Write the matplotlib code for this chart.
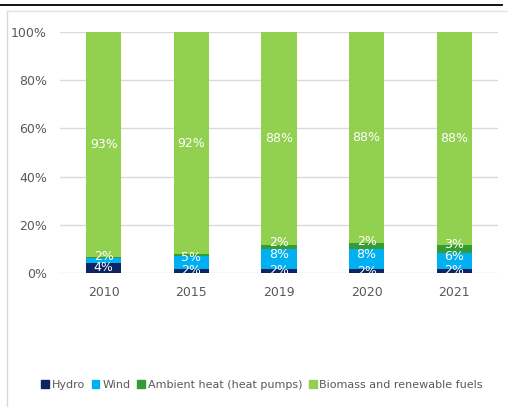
import matplotlib.pyplot as plt
from matplotlib.lines import Line2D
from matplotlib.patches import Rectangle
import numpy as np

years = ['2010', '2015', '2019', '2020', '2021']
hydro = [4.2, 1.8, 1.7, 1.6, 1.8]
wind = [2.2, 5.4, 8.3, 8.4, 6.4]
ambient = [0.3, 0.6, 1.8, 2.4, 3.4]
biomass = [93.3, 92.2, 88.2, 87.6, 88.4]

series = [
    ('Hydro', hydro, '#0c2461'),
    ('Wind', wind, '#00b0f0'),
    ('Ambient heat (heat pumps)', ambient, '#359b35'),
    ('Biomass and renewable fuels', biomass, '#92d050'),
]
min_label = 1.0
text_gray = '#595959'

W, H = 508, 407
fig = plt.figure(figsize=(W / 100, H / 100), dpi=100)

# outer decorations: dark rule on top, light frame around the chart area
fig.add_artist(Line2D([0, 502 / W], [1 - 5 / H, 1 - 5 / H], color='black', lw=1.3))
fig.add_artist(Line2D([7 / W, 1], [1 - 11 / H, 1 - 11 / H], color='#e3e3e3', lw=1.0))
fig.add_artist(Line2D([7 / W, 7 / W], [0, 1 - 11 / H], color='#d9d9d9', lw=1.0))

ax = fig.add_axes([60 / W, 1 - 273 / H, (498 - 60) / W, (273 - 32) / H])
x = np.arange(len(years))
bottom = np.zeros(len(years))
handles = []
for k, (name, vals, color) in enumerate(series):
    vals = np.array(vals)
    ax.bar(x, vals, 0.4, bottom=bottom, color=color, zorder=3)
    for xi, b, v in zip(x, bottom, vals):
        if v < min_label:
            continue
        # small stacked segments: nudge the label up so it clears the one below
        dy = 3 if (k > 0 and v < 10) else 0
        ax.annotate('%.0f%%' % v, (xi, b + v / 2), xytext=(0, dy),
                    textcoords='offset points', ha='center', va='center',
                    color='white', fontsize=9, zorder=4)
    bottom += vals
    handles.append(Rectangle((0, 0), 1, 1, color=color, label=name))

ax.set_xlim(-0.5, len(years) - 0.5)
ax.set_ylim(0, 100)
ax.set_yticks(np.arange(0, 101, 20))
ax.set_yticklabels(['%d%%' % v for v in range(0, 101, 20)])
ax.set_xticks(x)
ax.set_xticklabels(years)
ax.yaxis.grid(True, color='#d9d9d9', lw=1.0, zorder=0)
for s in ax.spines.values():
    s.set_visible(False)
ax.tick_params(length=0, labelsize=9, colors=text_gray)
ax.tick_params(axis='y', pad=9.5)
ax.tick_params(axis='x', pad=9)

fig.legend(handles=handles, loc='center', bbox_to_anchor=(262 / W, 1 - 385 / H),
           ncol=4, frameon=False, fontsize=8, handlelength=0.7, handleheight=0.7,
           handletextpad=0.25, columnspacing=0.6, labelcolor=text_gray)

fig.savefig('out.png', dpi=100)
